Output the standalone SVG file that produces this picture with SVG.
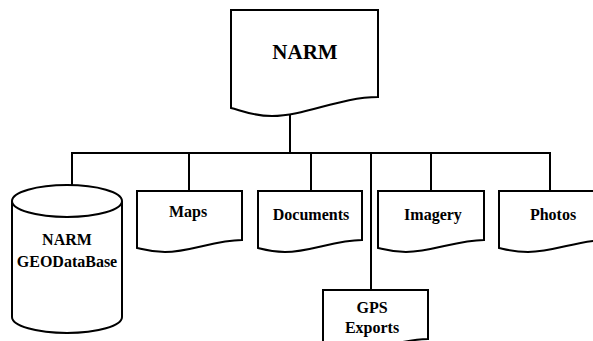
<svg xmlns="http://www.w3.org/2000/svg" width="593" height="341" viewBox="0 0 593 341">
<style>
.s{fill:#fff;stroke:#000;stroke-width:2;stroke-linejoin:miter}
.c{fill:none;stroke:#000;stroke-width:2}
text{font-family:"Liberation Serif","Times New Roman",serif;font-weight:bold;fill:#000;text-anchor:middle}
.t{font-size:16px}
</style>
<rect width="593" height="341" fill="#fff"/>
<g id="connectors">
<line class="c" x1="290" y1="115" x2="290" y2="153"/>
<line class="c" x1="71" y1="153" x2="551" y2="153"/>
<line class="c" x1="72" y1="152" x2="72" y2="186"/>
<line class="c" x1="189" y1="152" x2="189" y2="191"/>
<line class="c" x1="311" y1="152" x2="311" y2="191"/>
<line class="c" x1="371" y1="152" x2="371" y2="290"/>
<line class="c" x1="431" y1="152" x2="431" y2="191"/>
<line class="c" x1="550" y1="152" x2="550" y2="191"/>
</g>
<g id="narm">
<path class="s" d="M231,10 H378 V97 C340,97 305,116 272,116 C252,116 240,110 231,108 Z"/>
<text x="305" y="59" style="font-size:21px">NARM</text>
</g>
<g id="geodatabase">
<path class="s" d="M12,201 V317 A55,16 0 0 0 122,317 V201"/>
<ellipse class="s" cx="67" cy="201" rx="55" ry="16"/>
<text class="t" x="67" y="245">NARM</text>
<text class="t" x="67" y="267">GEODataBase</text>
</g>
<g id="maps">
<path class="s" d="M137,191 H242 V240 C215,240 190,252 165,252 C150,252 142,249 137,248 Z"/>
<text class="t" x="188" y="217">Maps</text>
</g>
<g id="documents">
<path class="s" d="M258,191 H362 V240 C335,240 310,252 285,252 C270,252 262,249 258,248 Z"/>
<text class="t" x="311" y="220">Documents</text>
</g>
<g id="imagery">
<path class="s" d="M378,191 H484 V240 C457,240 432,252 406,252 C391,252 383,249 378,248 Z"/>
<text class="t" x="433" y="220">Imagery</text>
</g>
<g id="photos">
<path class="s" d="M499,191 H606 V240 C579,240 554,252 528,252 C513,252 504,249 499,248 Z"/>
<text class="t" x="553" y="220">Photos</text>
</g>
<g id="gps">
<path class="s" d="M323,290 H428 V339 C401,339 376,351 350,351 C335,351 328,348 323,347 Z"/>
<text class="t" x="372" y="313">GPS</text>
<text class="t" x="372" y="333">Exports</text>
</g>
</svg>
